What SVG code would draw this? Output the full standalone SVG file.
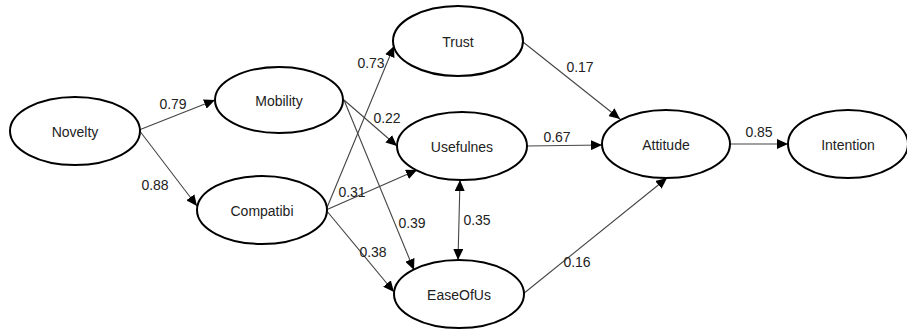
<svg xmlns="http://www.w3.org/2000/svg" width="907" height="331" viewBox="0 0 907 331">
<defs>
<style>
.n ellipse{fill:#fff;stroke:#000;stroke-width:2}
text{font-family:"Liberation Sans",Arial,sans-serif;font-size:14px;fill:#222;text-anchor:middle;dominant-baseline:central}
.c line{stroke:#444;stroke-width:1.1;marker-end:url(#a)}
</style>
<marker id="a" markerUnits="userSpaceOnUse" markerWidth="12" markerHeight="10" refX="11" refY="5" orient="auto"><path d="M0,0L11,5L0,10z" fill="#000"/></marker>
<marker id="b" markerUnits="userSpaceOnUse" markerWidth="12" markerHeight="10" refX="11" refY="5" orient="auto-start-reverse"><path d="M0,0L11,5L0,10z" fill="#000"/></marker>
</defs>
<rect width="907" height="331" fill="#fff"/>
<g class="c" id="connectors">
<line x1="139" y1="130" x2="215" y2="100"/>
<line x1="139" y1="130" x2="197" y2="206"/>
<line x1="344" y1="100" x2="397" y2="146"/>
<line x1="344" y1="100" x2="414" y2="270"/>
<line x1="326" y1="210" x2="394" y2="46"/>
<line x1="326" y1="210" x2="417" y2="170"/>
<line x1="326" y1="210" x2="394" y2="292"/>
<line x1="460" y1="180" x2="458" y2="260" marker-start="url(#b)"/>
<line x1="523" y1="42" x2="620" y2="119"/>
<line x1="527" y1="146" x2="602" y2="145"/>
<line x1="523" y1="294" x2="667" y2="178"/>
<line x1="730" y1="144" x2="788" y2="144"/>
</g>
<g id="labels">
<text x="173" y="104">0.79</text>
<text x="155" y="185">0.88</text>
<text x="371" y="63">0.73</text>
<text x="387" y="118">0.22</text>
<text x="352" y="192">0.31</text>
<text x="412" y="223">0.39</text>
<text x="373" y="252">0.38</text>
<text x="477" y="220">0.35</text>
<text x="580" y="67">0.17</text>
<text x="557" y="137">0.67</text>
<text x="577" y="262">0.16</text>
<text x="759" y="132">0.85</text>
</g>
<g class="n" id="novelty"><ellipse cx="75" cy="131" rx="65" ry="34"/><text x="75" y="132">Novelty</text></g>
<g class="n" id="mobility"><ellipse cx="279" cy="100" rx="64" ry="33"/><text x="279" y="101">Mobility</text></g>
<g class="n" id="compatibi"><ellipse cx="262" cy="210" rx="65" ry="34"/><text x="262" y="211">Compatibi</text></g>
<g class="n" id="trust"><ellipse cx="458" cy="41" rx="65" ry="35"/><text x="458" y="42">Trust</text></g>
<g class="n" id="usefulnes"><ellipse cx="462" cy="146" rx="65" ry="34"/><text x="462" y="147">Usefulnes</text></g>
<g class="n" id="easeofus"><ellipse cx="459" cy="294" rx="65" ry="34"/><text x="459" y="295">EaseOfUs</text></g>
<g class="n" id="attitude"><ellipse cx="666" cy="144" rx="64" ry="34"/><text x="666" y="145">Attitude</text></g>
<g class="n" id="intention"><ellipse cx="848" cy="144" rx="60" ry="34"/><text x="848" y="145">Intention</text></g>
</svg>
